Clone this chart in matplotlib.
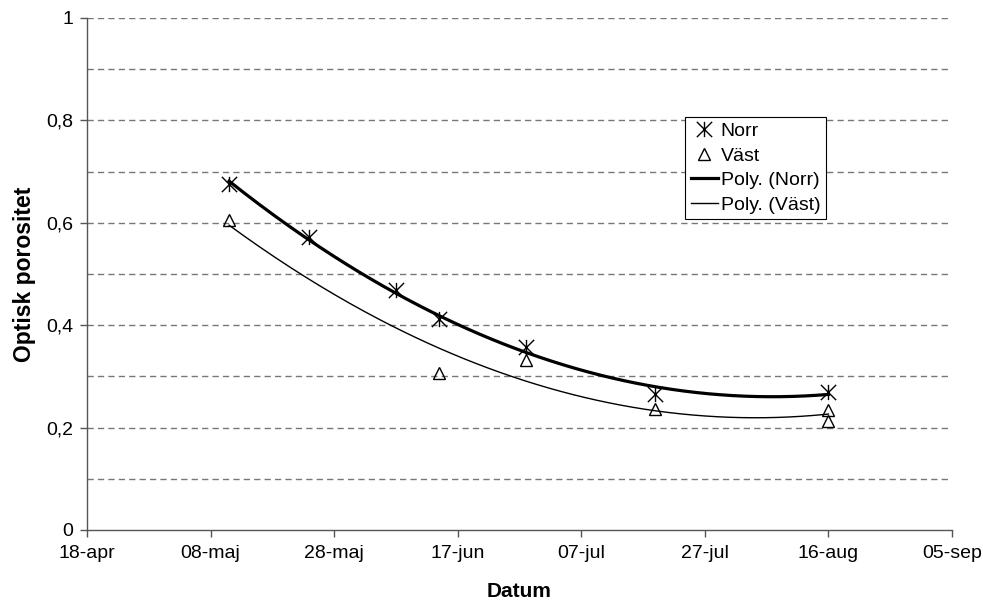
import numpy as np
import matplotlib.pyplot as plt
import matplotlib.dates as mdates
from matplotlib.path import Path
from matplotlib.ticker import FuncFormatter, MultipleLocator
import datetime as dt

plt.rcParams['font.family'] = ['Liberation Sans', 'DejaVu Sans']

# ---------------------------------------------------------------------------
# Data
# ---------------------------------------------------------------------------

norr_dates = ['2005-05-11', '2005-05-24', '2005-06-07', '2005-06-14',
              '2005-06-28', '2005-07-19', '2005-08-16']
norr_vals  = [0.675, 0.572, 0.468, 0.413, 0.357, 0.265, 0.270]

vast_dates = ['2005-05-11', '2005-06-14', '2005-06-28', '2005-07-19',
              '2005-08-16', '2005-08-16']
vast_vals  = [0.605, 0.306, 0.333, 0.236, 0.235, 0.212]

tick_dates  = ['2005-04-18', '2005-05-08', '2005-05-28', '2005-06-17',
               '2005-07-07', '2005-07-27', '2005-08-16', '2005-09-05']
tick_labels = ['18-apr', '08-maj', '28-maj', '17-jun',
               '07-jul', '27-jul', '16-aug', '05-sep']

to_num = lambda ds: mdates.date2num([dt.datetime.strptime(d, '%Y-%m-%d') for d in ds])

xn = to_num(norr_dates)
xv = to_num(vast_dates)
xt = to_num(tick_dates)

# Excel-style 2nd order polynomial trend lines
def poly_trend(x, y):
    c = np.polyfit(x - x[0], y, 2)
    xx = np.linspace(x.min(), x.max(), 200)
    return xx, np.polyval(c, xx - x[0])

def fmt_y(v, pos):
    v = round(v, 1)
    if v == 0 or v == 1:
        return '%d' % v
    return ('%.1f' % v).replace('.', ',')

# ---------------------------------------------------------------------------
# Plot
# ---------------------------------------------------------------------------

# Excel-like star: X plus vertical bar
star = Path([(0, -1), (0, 1), (-1, -1), (1, 1), (-1, 1), (1, -1)],
            [Path.MOVETO, Path.LINETO, Path.MOVETO, Path.LINETO, Path.MOVETO, Path.LINETO])

fig = plt.figure(figsize=(9.83, 6.03), dpi=100)
ax = fig.add_axes([87 / 983, 1 - 530 / 603, 865 / 983, 512 / 603])

for yg in np.arange(0.1, 1.01, 0.1):
    ax.axhline(yg, color='#777777', lw=1, dashes=(4.5, 3), zorder=0)

ax.plot(xn, norr_vals, linestyle='none', marker=star, ms=11, mew=1,
        color='black', label='Norr')
ax.plot(xv, vast_vals, linestyle='none', marker='^', ms=8.5, mew=1,
        mfc='none', mec='black', label='Väst')

tx, ty = poly_trend(xn, np.array(norr_vals))
ax.plot(tx, ty, color='black', lw=2.3, label='Poly. (Norr)')
tx, ty = poly_trend(xv, np.array(vast_vals))
ax.plot(tx, ty, color='black', lw=1.0, label='Poly. (Väst)')

ax.set_xlim(xt[0], xt[-1])
ax.set_ylim(0, 1)
ax.set_xticks(xt)
ax.set_xticklabels(tick_labels)
ax.yaxis.set_major_locator(MultipleLocator(0.2))
ax.yaxis.set_major_formatter(FuncFormatter(fmt_y))

for s in ['top', 'right']:
    ax.spines[s].set_visible(False)
for s in ['left', 'bottom']:
    ax.spines[s].set_color('#555555')
    ax.spines[s].set_linewidth(1)
ax.tick_params(direction='out', length=5, width=1, color='#555555',
               labelsize=14)
ax.tick_params(axis='y', pad=5)
ax.tick_params(axis='x', pad=6)

ax.set_xlabel('Datum', fontsize=15, fontweight='bold', labelpad=14)
ax.set_ylabel('Optisk porositet', fontsize=16.5, fontweight='bold', labelpad=7)

leg = ax.legend(loc='upper left', bbox_to_anchor=(0.691, 0.807), fontsize=14,
                frameon=True, fancybox=False, edgecolor='black', framealpha=1,
                borderpad=0.3, labelspacing=0.35, handlelength=1.4,
                handletextpad=0.15, borderaxespad=0)
leg.get_frame().set_linewidth(0.8)

fig.savefig('out.png', dpi=100)
